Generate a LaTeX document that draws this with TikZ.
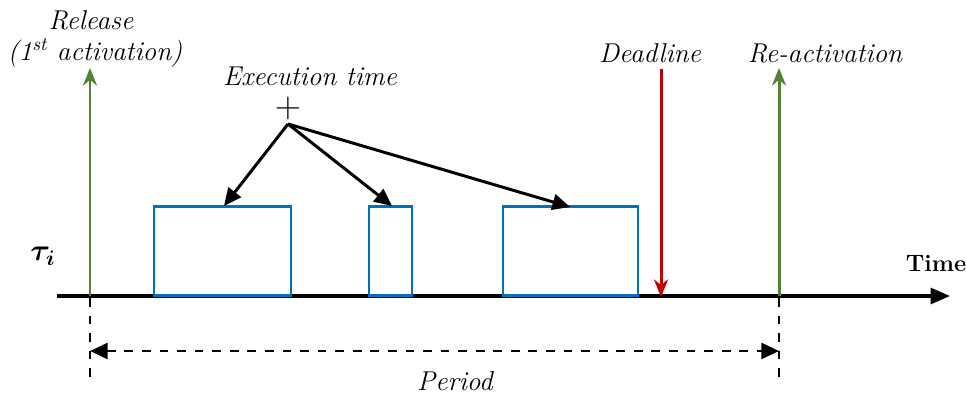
\documentclass[tikz,border=0pt]{standalone}
\usepackage{bm}
\usetikzlibrary{arrows.meta}
\definecolor{relgreen}{HTML}{548235}
\definecolor{deadred}{HTML}{C00000}
\definecolor{jobblue}{HTML}{0070C0}
\begin{document}
\begin{tikzpicture}[x=0.02cm,y=-0.02cm,
  lbl/.style={font=\fontsize{15.5}{18}\selectfont\itshape, inner sep=0pt},
  axis/.style={line width=1.9pt,-{Triangle[length=11pt,width=9pt]}},
  event/.style={line width=1.7pt,-{Stealth[length=10pt,width=8pt]}},
  job/.style={draw=jobblue,line width=1.6pt,inner sep=0pt,minimum height=89*0.02cm},
  pointer/.style={line width=1.7pt,-{Triangle[length=10pt,width=9pt]}},
  guide/.style={line width=1.2pt,dash pattern=on 5pt off 5pt}]
\useasboundingbox (0,0) rectangle (966,394);
% time axis
\coordinate (ax0) at (57,296);
\coordinate (ax1) at (950,296);
\draw[axis] (ax0) -- (ax1);
\node[inner sep=0pt,font=\fontsize{13.5}{16}\selectfont\bfseries] (time) at (936,264) {Time};
\node[inner sep=0pt,font=\fontsize{18}{20}\selectfont] (tau) at (43,256) {$\bm{\tau_i}$};
% release and re-activation
\coordinate (r0) at (90,296);
\coordinate (r1) at (90,68);
\coordinate (q0) at (779,296);
\coordinate (q1) at (779,68);
\draw[event,relgreen] (r0) -- (r1);
\draw[event,relgreen] (q0) -- (q1);
\node[lbl] (rel) at (91,20) {Release};
\node[lbl] (rel2) at (95,53) {(1\textsuperscript{st} activation)};
\node[lbl] (react) at (825,53) {Re-activation};
% deadline
\coordinate (d0) at (661,69);
\coordinate (d1) at (661,297);
\draw[event,deadred] (d0) -- (d1);
\node[lbl] (dl) at (650,53) {Deadline};
% job executions
\node[job,minimum width=137*0.02cm] (j1) at (222.5,251) {};
\node[job,minimum width=43*0.02cm] (j2) at (390.5,251) {};
\node[job,minimum width=135*0.02cm] (j3) at (570.5,251) {};
% execution time pointers
\node[lbl] (ex) at (310,76) {Execution time};
\node[inner sep=0pt,font=\fontsize{20}{22}\selectfont] (plus) at (288,108) {$+$};
\coordinate (src) at (288,124);
\draw[pointer] (src) -- (224,206);
\draw[pointer] (src) -- (392,206);
\draw[pointer] (src) -- (570,207);
% period
\coordinate (p0) at (90,298);
\coordinate (p1) at (90,384);
\coordinate (p2) at (779,298);
\coordinate (p3) at (779,384);
\draw[guide] (p0) -- (p1);
\draw[guide] (p2) -- (p3);
\coordinate (pa) at (90,351);
\coordinate (pb) at (779,351);
\draw[guide,line width=1.7pt,{Triangle[length=10pt,width=9pt]}-{Triangle[length=10pt,width=9pt]}] (pa) -- (pb);
\node[lbl] (per) at (455,381) {Period};
\end{tikzpicture}
\end{document}
